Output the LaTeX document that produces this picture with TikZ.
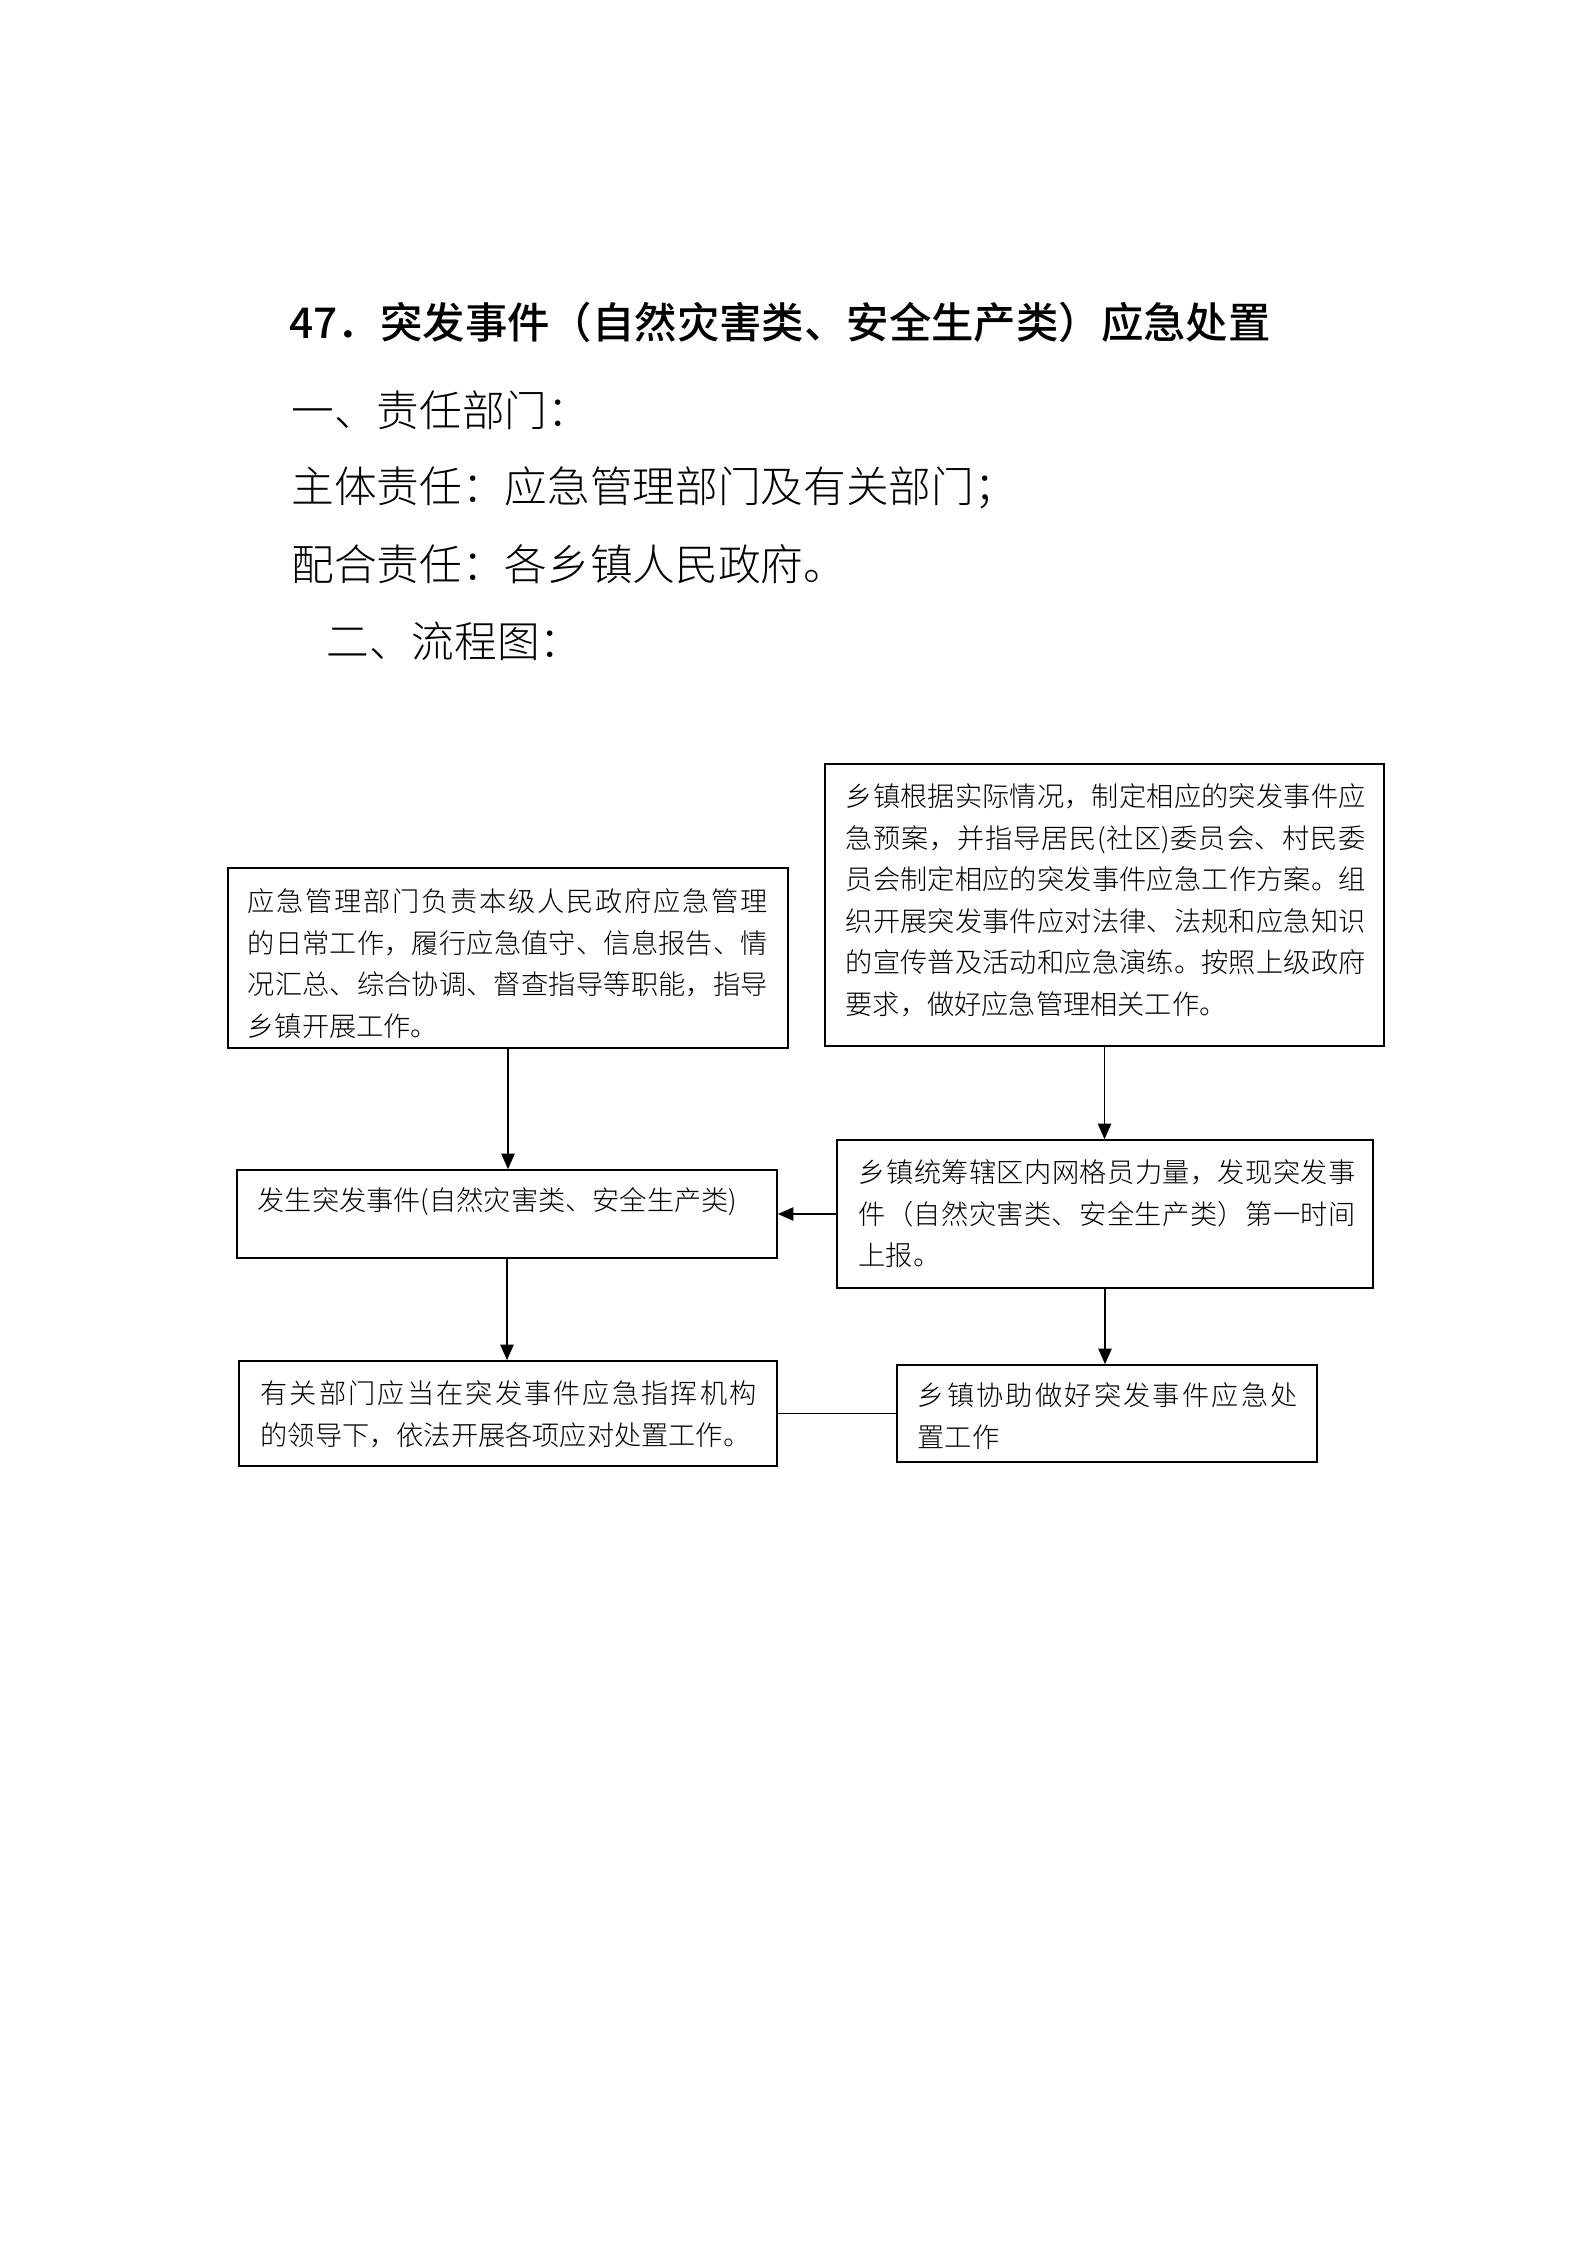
\documentclass[tikz,border=0pt]{standalone}
\usepackage{fontspec}
\setmainfont{Noto Sans CJK SC}
\newfontfamily\lightcjk{Noto Sans CJK SC Light}
\newfontfamily\mediumcjk{Noto Sans CJK SC Medium}
\usetikzlibrary{arrows.meta}
\XeTeXlinebreaklocale "zh"
\XeTeXlinebreakskip = 0pt plus 1pt
\setlength\parindent{0pt}
\begin{document}
\begin{tikzpicture}[x=0.375pt,y=-0.375pt,
  box/.style={draw=black,line width=0.65pt,rectangle,inner sep=0pt},
  boxtext/.style={anchor=north west,inner sep=0pt,align=justify,
    font=\lightcjk\fontsize{10.2pt}{15.56pt}\selectfont},
  heading/.style={anchor=west,inner sep=0pt,font=\lightcjk\fontsize{16pt}{20pt}\selectfont},
  conn/.style={line width=0.45pt},
  arr/.style={conn,-{Triangle[length=5.8pt,width=5pt]}}]
\useasboundingbox[fill=white] (0,0) rectangle (1587,2245);

% headings
\node[heading,font=\mediumcjk\fontsize{15.9pt}{20pt}\selectfont] (title) at (289,322) {47．突发事件（自然灾害类、安全生产类）应急处置};
\node[heading] (h1) at (291,410) {一、责任部门：};
\node[heading] (h2) at (291,488) {主体责任：应急管理部门及有关部门；};
\node[heading] (h3) at (291,564) {配合责任：各乡镇人民政府。};
\node[heading] (h4) at (326,641) {二、流程图：};

% boxes
\node[box,minimum width=560*0.375pt,minimum height=180*0.375pt] (lt) at (508,958) {};
\node[box,minimum width=559*0.375pt,minimum height=282*0.375pt] (rt) at (1104.5,905) {};
\node[box,minimum width=540*0.375pt,minimum height=88*0.375pt] (ml) at (507,1214) {};
\node[box,minimum width=536*0.375pt,minimum height=148*0.375pt] (mr) at (1105,1214) {};
\node[box,minimum width=538*0.375pt,minimum height=105*0.375pt] (bl) at (508,1413.5) {};
\node[box,minimum width=420*0.375pt,minimum height=97*0.375pt] (br) at (1107,1413.5) {};

% texts
\node[boxtext,text width=520*0.375pt] (ltx) at ([shift={(20,21)}]lt.north west)
 {应急管理部门负责本级人民政府应急管理\linebreak 的日常工作，履行应急值守、信息报告、情\linebreak 况汇总、综合协调、督查指导等职能，指导\linebreak 乡镇开展工作。};
\node[boxtext,text width=520*0.375pt] (rtx) at ([shift={(21,20)}]rt.north west)
 {乡镇根据实际情况，制定相应的突发事件应\linebreak 急预案，并指导居民(社区)委员会、村民委\linebreak 员会制定相应的突发事件应急工作方案。组\linebreak 织开展突发事件应对法律、法规和应急知识\linebreak 的宣传普及活动和应急演练。按照上级政府\linebreak 要求，做好应急管理相关工作。};
\node[boxtext,text width=510*0.375pt] (mlx) at ([shift={(21,18)}]ml.north west)
 {发生突发事件(自然灾害类、安全生产类)};
\node[boxtext,text width=497*0.375pt] (mrx) at ([shift={(22,20)}]mr.north west)
 {乡镇统筹辖区内网格员力量，发现突发事\linebreak 件（自然灾害类、安全生产类）第一时间\linebreak 上报。};
\node[boxtext,text width=496*0.375pt] (blx) at ([shift={(22,20)}]bl.north west)
 {有关部门应当在突发事件应急指挥机构\linebreak 的领导下，依法开展各项应对处置工作。};
\node[boxtext,text width=380*0.375pt] (brx) at ([shift={(21,18)}]br.north west)
 {乡镇协助做好突发事件应急处\linebreak 置工作};

% connectors
\draw[arr] (lt.south) -- (lt.south |- ml.north);
\draw[arr] (rt.south) -- (rt.south |- mr.north);
\draw[arr] (mr.west) -- (ml.east);
\draw[arr] (ml.south) -- (ml.south |- bl.north);
\draw[arr] (mr.south) -- (mr.south |- br.north);
\draw[conn] (bl.east) -- (br.west);
\end{tikzpicture}
\end{document}
